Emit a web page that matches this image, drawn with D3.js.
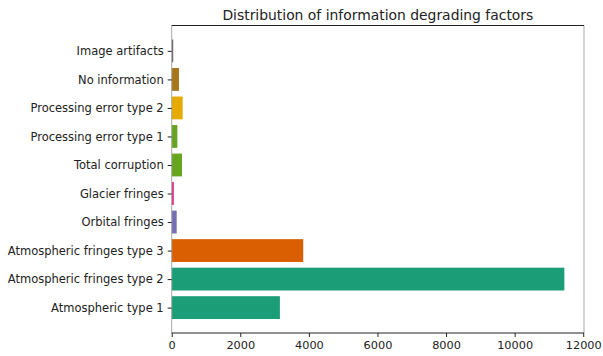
<!DOCTYPE html>
<html>
<head>
<meta charset="utf-8">
<script src="https://cdn.jsdelivr.net/npm/d3@7"></script>
<style>
  html, body { margin: 0; padding: 0; background: #fff; }
  svg { display: block; }
  svg text { font-family: "DejaVu Sans", sans-serif; }
</style>
</head>
<body>
<svg id="chart" width="603" height="356"></svg>
<script>
// Categories listed bottom-to-top, as drawn on the y axis
const categories = [
  "Atmospheric type 1",
  "Atmospheric fringes type 2",
  "Atmospheric fringes type 3",
  "Orbital fringes",
  "Glacier fringes",
  "Total corruption",
  "Processing error type 1",
  "Processing error type 2",
  "No information",
  "Image artifacts"
];
const counts = [3155, 11450, 3835, 145, 62, 300, 165, 320, 212, 45];
const barColors = [
  "#1b9e77", "#1b9e77", "#d95f02", "#7570b3", "#e7298a",
  "#66a61e", "#66a61e", "#e6ab02", "#a6761d", "#666666"
];
const xTicks = [0, 2000, 4000, 6000, 8000, 10000, 12000];
const title = "Distribution of information degrading factors";

const svg = d3.select("#chart");
const plot = { left: 171.7, right: 584, top: 25.5, bottom: 333 };

const xMax = d3.max(counts) * 1.05;
const x = d3.scaleLinear().domain([0, xMax]).range([plot.left, plot.right]);

const barH = 0.8;
const yMin = -barH / 2, yMaxv = categories.length - 1 + barH / 2;
const yPad = (yMaxv - yMin) * 0.05;
const y = d3.scaleLinear()
  .domain([yMin - yPad, yMaxv + yPad])
  .range([plot.bottom, plot.top]);

// Bars
svg.append("g")
  .selectAll("rect")
  .data(categories)
  .join("rect")
  .attr("x", x(0))
  .attr("y", (d, i) => y(i + barH / 2))
  .attr("width", (d, i) => x(counts[i]) - x(0))
  .attr("height", (d, i) => y(i - barH / 2) - y(i + barH / 2))
  .attr("fill", (d, i) => barColors[i]);

// Frame
const frame = svg.append("g").attr("fill", "none").attr("stroke-width", 1);
frame.append("line").attr("x1", plot.left).attr("x2", plot.left)
  .attr("y1", plot.top).attr("y2", plot.bottom).attr("stroke", "#a8a8a8");
frame.append("line").attr("x1", plot.right).attr("x2", plot.right)
  .attr("y1", plot.top).attr("y2", plot.bottom).attr("stroke", "#a8a8a8");
frame.append("line").attr("x1", plot.left).attr("x2", plot.right)
  .attr("y1", plot.top).attr("y2", plot.top).attr("stroke", "#222");
frame.append("line").attr("x1", plot.left).attr("x2", plot.right)
  .attr("y1", plot.bottom).attr("y2", plot.bottom).attr("stroke", "#222");

// X axis
const xAxis = svg.append("g")
  .attr("transform", `translate(0,${plot.bottom})`)
  .call(d3.axisBottom(x).tickValues(xTicks).tickFormat(d3.format("d"))
    .tickSize(4).tickPadding(4));
xAxis.select(".domain").remove();
xAxis.selectAll(".tick line").attr("stroke", "#222");
xAxis.selectAll("text").attr("font-size", 11.3).attr("fill", "#222");

// Y axis
const yAxis = svg.append("g")
  .attr("transform", `translate(${plot.left},0)`)
  .call(d3.axisLeft(y).tickValues(d3.range(categories.length))
    .tickFormat(i => categories[i]).tickSize(4).tickPadding(4));
yAxis.select(".domain").remove();
yAxis.selectAll(".tick line").attr("stroke", "#222");
yAxis.selectAll("text").attr("font-size", 11.5).attr("fill", "#222");
svg.selectAll("g").attr("font-family", null).attr("font-size", null);

// Title
svg.append("text")
  .attr("x", (plot.left + plot.right) / 2)
  .attr("y", 19.5)
  .attr("text-anchor", "middle")
  .attr("font-size", 13.9)
  .attr("fill", "#222")
  .text(title);
</script>
</body>
</html>
